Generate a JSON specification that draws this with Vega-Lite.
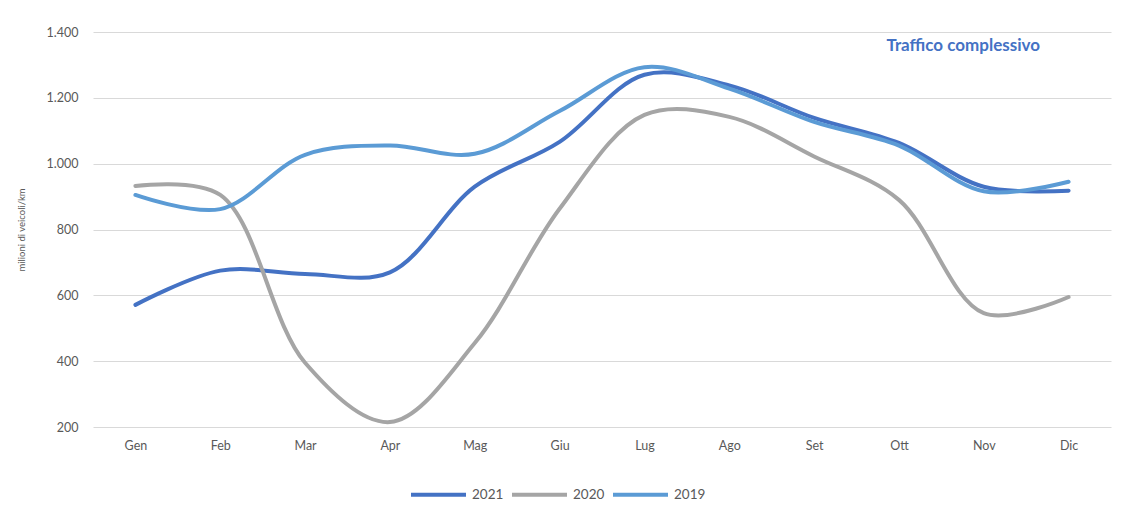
{
  "$schema": "https://vega.github.io/schema/vega-lite/v6.json",
  "width": 1018,
  "height": 395,
  "autosize": {"type": "none"},
  "padding": {"left": 93, "top": 32, "right": 17, "bottom": 89},
  "background": "white",
  "title": {
    "text": "Traffico complessivo",
    "anchor": "end",
    "orient": "top",
    "baseline": "top",
    "offset": 0,
    "dx": -71,
    "dy": 29,
    "font": "Lato",
    "fontSize": 17,
    "fontWeight": "bold",
    "color": "#4472C4"
  },
  "config": {
    "view": {"stroke": null},
    "font": "Lato",
    "axis": {"labelFont": "Lato", "titleFont": "Lato", "labelColor": "#595959", "titleColor": "#595959"}
  },
  "data": {
    "values": [
      {"mese": "Gen", "anno": "2021", "v": 571},
      {"mese": "Feb", "anno": "2021", "v": 675},
      {"mese": "Mar", "anno": "2021", "v": 665},
      {"mese": "Apr", "anno": "2021", "v": 670},
      {"mese": "Mag", "anno": "2021", "v": 930},
      {"mese": "Giu", "anno": "2021", "v": 1066},
      {"mese": "Lug", "anno": "2021", "v": 1270},
      {"mese": "Ago", "anno": "2021", "v": 1238},
      {"mese": "Set", "anno": "2021", "v": 1139},
      {"mese": "Ott", "anno": "2021", "v": 1063},
      {"mese": "Nov", "anno": "2021", "v": 930},
      {"mese": "Dic", "anno": "2021", "v": 918},
      {"mese": "Gen", "anno": "2020", "v": 932},
      {"mese": "Feb", "anno": "2020", "v": 905},
      {"mese": "Mar", "anno": "2020", "v": 395},
      {"mese": "Apr", "anno": "2020", "v": 215},
      {"mese": "Mag", "anno": "2020", "v": 455},
      {"mese": "Giu", "anno": "2020", "v": 863},
      {"mese": "Lug", "anno": "2020", "v": 1148},
      {"mese": "Ago", "anno": "2020", "v": 1142},
      {"mese": "Set", "anno": "2020", "v": 1022},
      {"mese": "Ott", "anno": "2020", "v": 890},
      {"mese": "Nov", "anno": "2020", "v": 546},
      {"mese": "Dic", "anno": "2020", "v": 595},
      {"mese": "Gen", "anno": "2019", "v": 905},
      {"mese": "Feb", "anno": "2019", "v": 862},
      {"mese": "Mar", "anno": "2019", "v": 1027},
      {"mese": "Apr", "anno": "2019", "v": 1055},
      {"mese": "Mag", "anno": "2019", "v": 1030},
      {"mese": "Giu", "anno": "2019", "v": 1160},
      {"mese": "Lug", "anno": "2019", "v": 1293},
      {"mese": "Ago", "anno": "2019", "v": 1228},
      {"mese": "Set", "anno": "2019", "v": 1127},
      {"mese": "Ott", "anno": "2019", "v": 1055},
      {"mese": "Nov", "anno": "2019", "v": 916},
      {"mese": "Dic", "anno": "2019", "v": 945}
    ]
  },
  "mark": {"type": "line", "interpolate": "catmull-rom", "strokeWidth": 4, "strokeCap": "round"},
  "encoding": {
    "x": {
      "field": "mese",
      "type": "ordinal",
      "sort": ["Gen", "Feb", "Mar", "Apr", "Mag", "Giu", "Lug", "Ago", "Set", "Ott", "Nov", "Dic"],
      "scale": {"type": "point", "padding": 0.5},
      "axis": {
        "title": null,
        "labelAngle": 0,
        "domain": false,
        "ticks": false,
        "grid": false,
        "labelPadding": 12,
        "labelFontSize": 12.5
      }
    },
    "y": {
      "field": "v",
      "type": "quantitative",
      "scale": {"domain": [200, 1400], "nice": false, "zero": false},
      "axis": {
        "title": "milioni di veicoli/km",
        "titleFontSize": 9.5,
        "titleFontWeight": "normal",
        "titlePadding": 20,
        "values": [200, 400, 600, 800, 1000, 1200, 1400],
        "labelExpr": "replace(format(datum.value, ','), ',', '.')",
        "domain": false,
        "ticks": false,
        "labelPadding": 15,
        "labelFontSize": 12.5,
        "gridColor": "#D9D9D9",
        "gridWidth": 1.2
      }
    },
    "color": {
      "field": "anno",
      "type": "nominal",
      "scale": {"domain": ["2021", "2020", "2019"], "range": ["#4472C4", "#A5A5A5", "#5B9BD5"]},
      "legend": {
        "title": null,
        "orient": "none",
        "direction": "horizontal",
        "legendX": 316,
        "legendY": 433,
        "symbolType": "stroke",
        "symbolSize": 3025,
        "symbolStrokeWidth": 4,
        "labelFontSize": 13.5,
        "labelColor": "#595959",
        "labelOffset": 4,
        "columnPadding": 0
      }
    }
  }
}
